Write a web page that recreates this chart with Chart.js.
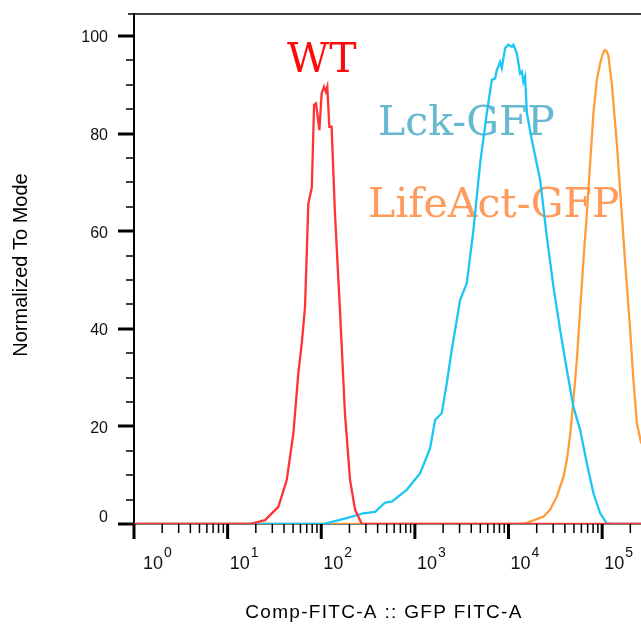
<!DOCTYPE html>
<html>
<head>
<meta charset="utf-8">
<script src="https://cdn.jsdelivr.net/npm/chart.js@4.4.1/dist/chart.umd.min.js"></script>
<style>
  html, body { margin: 0; padding: 0; background: #fff; overflow: hidden; }
  #wrap { width: 641px; height: 626px; }
</style>
</head>
<body>
<div id="wrap"><canvas id="histo" width="641" height="626"></canvas></div>
<script>
// GFP FITC-A intensity (x) vs. % of mode (y)
const wtX = [1, 17.3, 25.1, 34.8, 42.8, 50.4, 56.9, 61.9, 67.1, 72.8, 79.3, 83.8, 87.9, 95.5, 101, 107, 112, 116, 122, 129, 140, 159, 179, 203, 230, 271, 300000];
const wtY = [0, 0, 0.8, 3.5, 9, 18.6, 30.9, 37, 44.5, 65.7, 69, 85.9, 86.2, 80.7, 88.3, 89.6, 88.6, 89.6, 81.4, 81.4, 63.7, 43.2, 22.7, 9, 2.9, 0, 0];

const lckX = [1, 105, 187, 282, 376, 481, 566, 818, 1138, 1452, 1644, 1936, 2188, 2477, 3041, 3581, 4217, 4977, 5861, 6637, 7194, 7499, 8128, 8472, 9204, 9977, 10839, 11272, 12274, 12764, 13305, 13868, 14421, 15031, 15704, 17742, 21777, 25645, 30200, 35563, 41976, 49317, 58210, 68707, 80724, 95280, 112202, 132130, 300000];
const lckY = [0, 0, 1.2, 2.2, 2.5, 4.4, 4.6, 7.0, 10.4, 15.5, 21.3, 22.7, 28.8, 35.7, 45.9, 49.3, 60.2, 73.9, 84.2, 91, 91.3, 93, 94.7, 93.4, 97.5, 98.2, 97.8, 98.2, 96.4, 94.4, 92.3, 92.7, 90.6, 91.7, 84.2, 78.7, 70.5, 58.9, 48.6, 39.8, 31.6, 24, 19.3, 12.4, 6.3, 2.2, 0.1, 0, 0];

const lifeX = [1, 14421, 23605, 27797, 32810, 38637, 41976, 45499, 49317, 53703, 58210, 63096, 68707, 74473, 80724, 87700, 95280, 101158, 106414, 111686, 116681, 127057, 143549, 162181, 176198, 199067, 215774, 234963, 261216, 295121];
const lifeY = [0, 0, 1.5, 2.9, 5.6, 9.7, 13.1, 18.2, 25.4, 33.6, 43.9, 54, 63.7, 74, 84.2, 91, 94.4, 96.2, 97.1, 96.9, 95.9, 90, 78, 63.5, 53.5, 39.8, 29.5, 20.7, 16.5, 11];

const seriesNames = ['WT', 'Lck-GFP', 'LifeAct-GFP'];
const lineColors = ['#ff3333', '#1cc6f4', '#ff9d3c'];
const labelColors = ['#ff0a0a', '#66b9cf', '#ff9b5c'];
const yTicks = [0, 20, 40, 60, 80, 100];
const decades = [0, 1, 2, 3, 4, 5];

const xMax = 260000;
const yMax = 104.5;

function zip(xs, ys) {
  return xs.map((v, i) => ({ x: v, y: ys[i] }));
}

function stroke(ctx, x1, y1, x2, y2) {
  ctx.beginPath();
  ctx.moveTo(x1, y1);
  ctx.lineTo(x2, y2);
  ctx.stroke();
}

// series names written straight into the plot, under the curves
const seriesLabels = {
  id: 'seriesLabels',
  beforeDatasetsDraw(chart) {
    const ctx = chart.ctx;
    const spots = [[287, 72], [378, 135], [368, 217]];
    ctx.save();
    ctx.font = '41px "DejaVu Serif"';
    ctx.textAlign = 'left';
    ctx.textBaseline = 'alphabetic';
    seriesNames.forEach((name, i) => {
      ctx.fillStyle = labelColors[i];
      ctx.fillText(name, spots[i][0], spots[i][1]);
    });
    ctx.restore();
  }
};

// flowjo style axes: long/short tick marks, 10^n labels, top frame line
const flowAxes = {
  id: 'flowAxes',
  afterDraw(chart) {
    const { ctx, chartArea: a, scales: { x, y } } = chart;
    ctx.save();
    ctx.strokeStyle = '#000';
    ctx.fillStyle = '#111';

    ctx.lineWidth = 1.5;
    stroke(ctx, a.left - 6, a.top, a.right, a.top);

    for (let v = 0; v <= 100; v += 5) {
      const py = Math.round(y.getPixelForValue(v));
      const major = v % 20 === 0;
      ctx.lineWidth = major ? 3 : 1.5;
      stroke(ctx, a.left - (major ? 16 : 8), py, a.left, py);
    }

    for (const d of decades) {
      for (let m = 1; m < 10; m++) {
        const v = m * Math.pow(10, d);
        if (v > x.max) break;
        const px = x.getPixelForValue(v);
        const major = m === 1;
        ctx.lineWidth = major ? 3 : 1.5;
        stroke(ctx, px, a.bottom, px, a.bottom + (major ? 15 : 9));
      }
    }

    ctx.font = '16px "Liberation Sans", Arial, sans-serif';
    ctx.textAlign = 'right';
    ctx.textBaseline = 'middle';
    yTicks.forEach(v => {
      const py = y.getPixelForValue(v);
      ctx.fillText(String(v), 108, v === 0 ? py - 6 : py + 2);
    });

    ctx.textAlign = 'left';
    ctx.textBaseline = 'alphabetic';
    decades.forEach(d => {
      const px = x.getPixelForValue(Math.pow(10, d));
      const left = Math.max(px + 2, a.left + 9);
      ctx.font = '18px "Liberation Sans", Arial, sans-serif';
      ctx.fillText('10', left, 569);
      const w = ctx.measureText('10').width;
      ctx.font = '14px "Liberation Sans", Arial, sans-serif';
      ctx.fillText(String(d), left + w + 1, 557);
    });

    ctx.fillStyle = '#000';
    ctx.font = '19px "Liberation Sans", Arial, sans-serif';
    ctx.letterSpacing = '1.3px';
    ctx.textAlign = 'center';
    ctx.fillText('Comp-FITC-A :: GFP FITC-A', 384, 618);

    ctx.letterSpacing = '0px';
    ctx.font = '20px "Liberation Sans", Arial, sans-serif';
    ctx.translate(21, 265);
    ctx.rotate(-Math.PI / 2);
    ctx.textBaseline = 'middle';
    ctx.fillText('Normalized To Mode', 0, 0);
    ctx.restore();
  }
};

const seriesData = [zip(wtX, wtY), zip(lckX, lckY), zip(lifeX, lifeY)];

new Chart(document.getElementById('histo'), {
  type: 'line',
  data: {
    datasets: seriesData.map((pts, i) => ({
      label: seriesNames[i],
      data: pts,
      borderColor: lineColors[i],
      backgroundColor: lineColors[i],
      borderWidth: 2.3,
      pointRadius: 0,
      tension: 0,
      fill: false
    }))
  },
  options: {
    responsive: false,
    animation: false,
    devicePixelRatio: 1,
    layout: { padding: { top: 14, right: 0, bottom: 0, left: 0 } },
    plugins: {
      legend: { display: false },
      tooltip: { enabled: false }
    },
    scales: {
      x: {
        type: 'logarithmic',
        min: 1,
        max: xMax,
        grid: { display: false },
        border: { display: true, color: '#000', width: 1.5 },
        ticks: { display: false },
        afterFit: s => { s.height = 102; }
      },
      y: {
        min: 0,
        max: yMax,
        grid: { display: false },
        border: { display: true, color: '#000', width: 2 },
        ticks: { display: false },
        afterFit: s => { s.width = 134; }
      }
    }
  },
  plugins: [seriesLabels, flowAxes]
});
</script>
</body>
</html>
